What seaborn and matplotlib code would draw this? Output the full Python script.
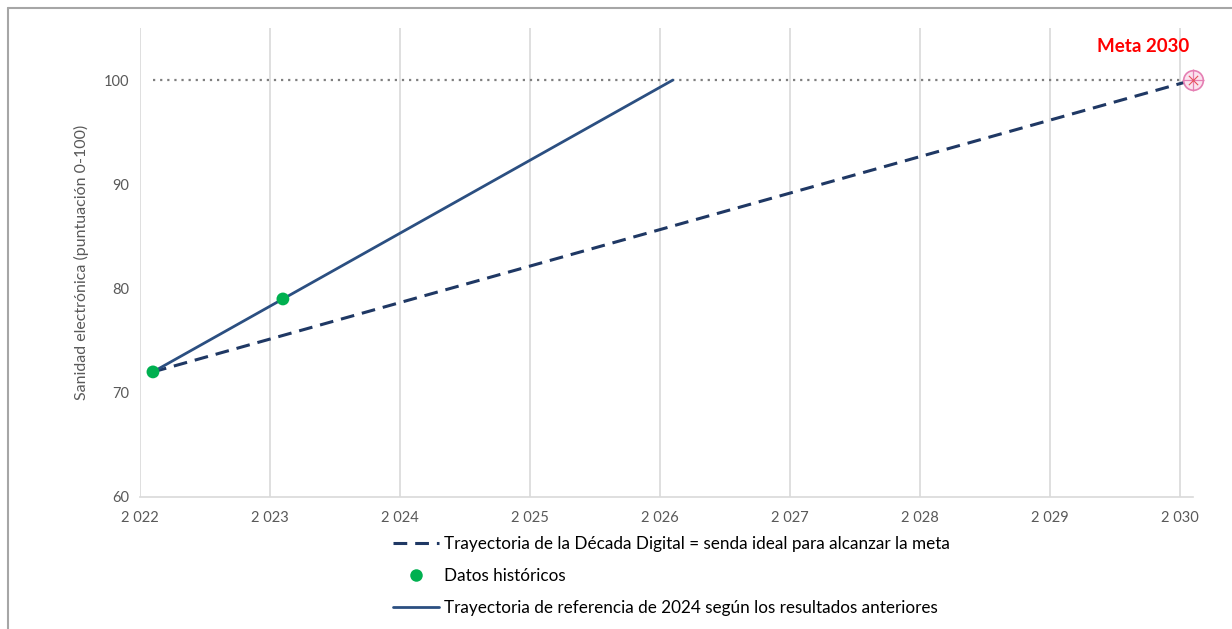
import matplotlib
matplotlib.use("Agg")
import matplotlib.pyplot as plt
import matplotlib.ticker as mticker
from matplotlib.lines import Line2D
import seaborn as sns
import pandas as pd

# --- data -------------------------------------------------------------
hist_years = [2022.1, 2023.1]
hist_values = [72, 79]

ref_years = [2022.1, 2023.1, 2026.1]
ref_values = [72, 79, 100]

ideal_years = [2022.1, 2030.1]
ideal_values = [72, 100]

target_years = [2022.1, 2030.1]
target_values = [100, 100]

goal_year = [2030.1]
goal_value = [100]

x_ticks = [2022, 2023, 2024, 2025, 2026, 2027, 2028, 2029, 2030]
y_ticks = [60, 70, 80, 90, 100]

lbl_ideal = "Trayectoria de la Década Digital = senda ideal para alcanzar la meta"
lbl_hist = "Datos históricos"
lbl_ref = "Trayectoria de referencia de 2024 según los resultados anteriores"
y_label = "Sanidad electrónica (puntuación 0-100)"
goal_label = "Meta 2030"

# --- style ------------------------------------------------------------
sns.set_theme(style="white")
plt.rcParams["font.family"] = ["Lato", "DejaVu Sans"]

NAVY = "#1f3864"
BLUE = "#2b4f81"
GREEN = "#00b050"
GREY_TXT = "#595959"
GRID = "#d9d9d9"
PINK = "#e57fb3"

fig = plt.figure(figsize=(12.32, 6.29), dpi=100)
ax = fig.add_axes([0.1136, 0.2099, 0.968 - 0.1136, 0.9555 - 0.2099])

df_ideal = pd.DataFrame({"year": ideal_years, "value": ideal_values})
df_ref = pd.DataFrame({"year": ref_years, "value": ref_values})
df_hist = pd.DataFrame({"year": hist_years, "value": hist_values})
df_target = pd.DataFrame({"year": target_years, "value": target_values})
df_goal = pd.DataFrame({"year": goal_year, "value": goal_value})

# dotted 2030 target level
sns.lineplot(data=df_target, x="year", y="value", ax=ax, color="#7f7f7f",
             linewidth=1.6, linestyle=(0, (1, 2.2)), zorder=2)
# ideal path
sns.lineplot(data=df_ideal, x="year", y="value", ax=ax, color=NAVY,
             linewidth=2.2, linestyle=(0, (4.5, 2.6)), zorder=3)
# reference trajectory
sns.lineplot(data=df_ref, x="year", y="value", ax=ax, color=BLUE,
             linewidth=2.0, zorder=4)
# historic values
sns.scatterplot(data=df_hist, x="year", y="value", ax=ax, color=GREEN,
                s=85, edgecolor="none", zorder=5)
# 2030 goal marker
sns.scatterplot(data=df_goal, x="year", y="value", ax=ax, color="#fbe3ef",
                edgecolor=PINK, linewidth=1.2, s=200, zorder=6)
sns.scatterplot(data=df_goal, x="year", y="value", ax=ax, color=PINK,
                marker="+", s=230, linewidth=0.9, zorder=7)
sns.scatterplot(data=df_goal, x="year", y="value", ax=ax, color="#e8505b",
                marker="x", s=45, linewidth=0.8, zorder=7)
for coll in ax.collections:
    coll.set_clip_on(False)

ax.text(2029.72, 103.2, goal_label, color="#ff0000", fontsize=13.5,
        fontweight="bold", ha="center", va="center")

# axes
ax.set_xlim(2022, 2030.1)
ax.set_ylim(60, 105)
ax.set_xticks(x_ticks)
ax.set_yticks(y_ticks)
ax.xaxis.set_major_formatter(mticker.FuncFormatter(
    lambda v, p: f"{int(round(v)):,}".replace(",", " ")))
ax.tick_params(axis="both", colors=GREY_TXT, labelsize=10.5, length=0, pad=8)
ax.tick_params(axis="x", pad=10)
ax.xaxis.grid(True, color=GRID, linewidth=1.2)
ax.yaxis.grid(False)
for side in ["top", "right", "left"]:
    ax.spines[side].set_visible(False)
ax.spines["bottom"].set_color(GRID)
ax.spines["bottom"].set_linewidth(1.2)
ax.set_xlabel("")
ax.set_ylabel(y_label, color=GREY_TXT, fontsize=11.5, labelpad=10)

# legend below the plot
handles = [
    Line2D([], [], color=NAVY, linewidth=2.2, linestyle=(0, (4.5, 2.6))),
    Line2D([], [], color=GREEN, marker="o", markersize=9, linestyle="none",
           markeredgecolor="none"),
    Line2D([], [], color=BLUE, linewidth=2.0),
]
leg = fig.legend(handles, [lbl_ideal, lbl_hist, lbl_ref], loc="upper left",
                 bbox_to_anchor=(0.319, 0.148), frameon=False, fontsize=12.3,
                 handlelength=2.7, handletextpad=0.3, labelspacing=0.95,
                 borderaxespad=0, borderpad=0)
for t in leg.get_texts():
    t.set_color("#000000")

# outer frame (top and left edges)
fig.add_artist(Line2D([0.0065, 1.0], [0.987, 0.987], transform=fig.transFigure,
                      color="#a6a6a6", linewidth=1.5))
fig.add_artist(Line2D([0.0065, 0.0065], [0.0, 0.987], transform=fig.transFigure,
                      color="#a6a6a6", linewidth=1.5))

fig.savefig("out.png", dpi=100)
